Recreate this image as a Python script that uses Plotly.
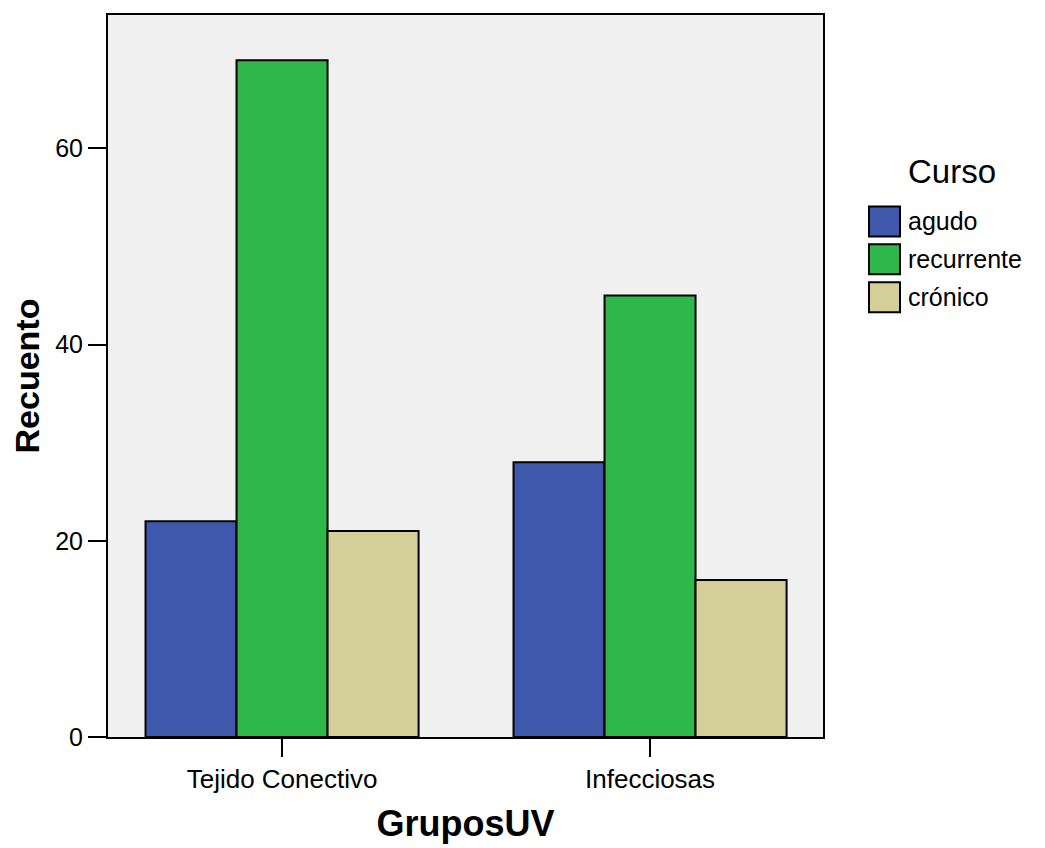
import plotly.graph_objects as go

categories = ["Tejido Conectivo", "Infecciosas"]
series_names = ["agudo", "recurrente", "crónico"]
agudo = [22, 28]
recurrente = [69, 45]
cronico = [21, 16]
series_values = [agudo, recurrente, cronico]
colors = ["#3F58AC", "#2FB84A", "#D4CF98"]
y_ticks = [0, 20, 40, 60]

W, H = 1045, 848
OFF = 8  # page offset of the figure
pl, pr, pt, pb = 108 - OFF, W - (823 - OFF), 13 - OFF, H - (737 - OFF)
pw, ph = W - pl - pr, H - pt - pb

def px_x(x):
    return (x - OFF - pl) / pw

def px_y(y):
    return (H - pb - (y - OFF)) / ph

FONT = "Liberation Sans, Arial"

fig = go.Figure()
for name, vals, col in zip(series_names, series_values, colors):
    fig.add_trace(go.Bar(
        x=categories, y=vals, name=name,
        marker=dict(color=col, line=dict(color="black", width=2)),
        showlegend=False,
    ))

fig.update_layout(
    width=W, height=H,
    margin=dict(l=pl, r=pr, t=pt, b=pb),
    paper_bgcolor="white", plot_bgcolor="#F0F0F0",
    barmode="group", bargap=0.258, bargroupgap=0,
    font=dict(family=FONT, color="black"),
    xaxis=dict(
        range=[-0.473, 1.47], showline=True, linecolor="black", linewidth=2,
        mirror=True, ticks="outside", ticklen=18, tickwidth=2, tickcolor="black",
        tickfont=dict(size=26),
        title=dict(text="<b>GruposUV</b>", font=dict(size=36), standoff=18),
        showgrid=False,
    ),
    yaxis=dict(
        range=[0, 73.6], showline=True, linecolor="black", linewidth=2,
        mirror=True, ticks="outside", ticklen=18, tickwidth=2, tickcolor="black",
        tickvals=y_ticks, tickfont=dict(size=25),
        title=dict(text="<b>Recuento</b>", font=dict(size=34), standoff=14),
        showgrid=False, zeroline=False,
    ),
)

# legend drawn with large swatches like the reference
fig.add_annotation(x=px_x(906), y=px_y(170), xref="paper", yref="paper", text="Curso",
                   showarrow=False, font=dict(size=33, color="black"),
                   xanchor="left", yanchor="middle")
for i, (name, col) in enumerate(zip(series_names, colors)):
    yc = 220 + i * 38
    fig.add_shape(type="rect", xref="paper", yref="paper",
                  x0=px_x(869), x1=px_x(900), y0=px_y(yc - 15), y1=px_y(yc + 15),
                  fillcolor=col, line=dict(color="black", width=2))
    fig.add_annotation(x=px_x(906), y=px_y(yc), xref="paper", yref="paper", text=name,
                       showarrow=False, font=dict(size=25, color="black"),
                       xanchor="left", yanchor="middle")

fig.write_html("out.html")
